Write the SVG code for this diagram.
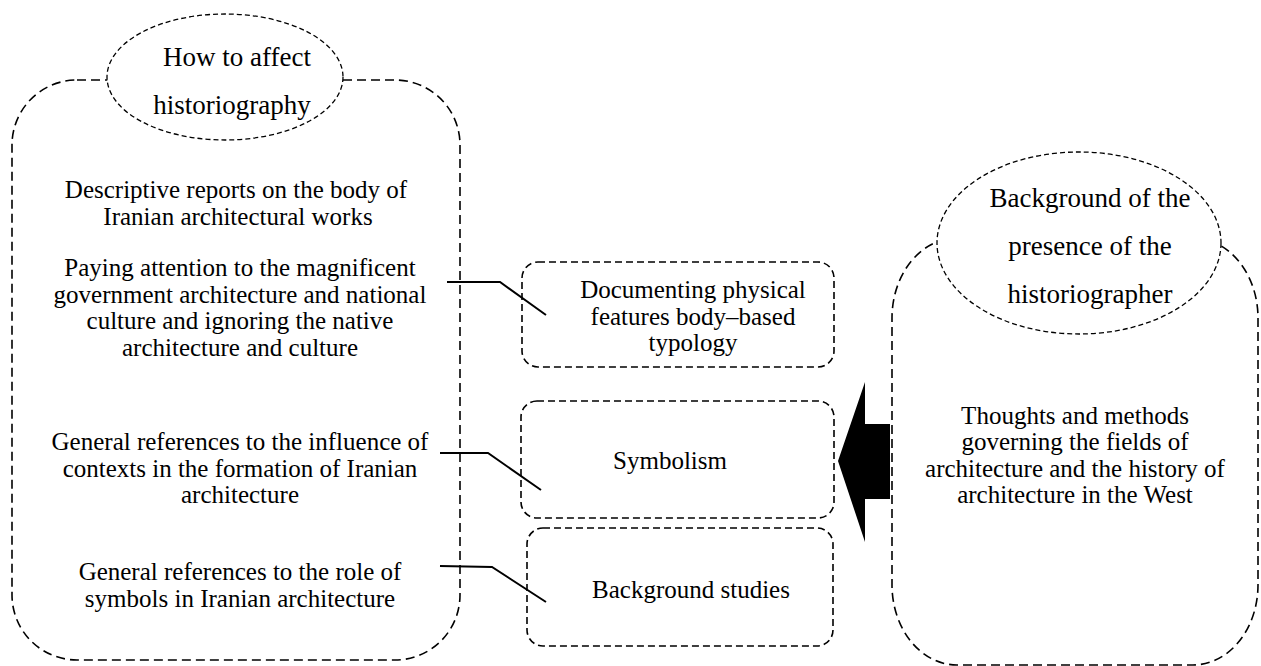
<svg xmlns="http://www.w3.org/2000/svg" width="1261" height="666" viewBox="0 0 1261 666">
<style>
.big{fill:none;stroke:#000;stroke-width:1.6;stroke-dasharray:9 5}
.ell{fill:#fff;stroke:#000;stroke-width:1.3;stroke-dasharray:5 3}
.box{fill:none;stroke:#000;stroke-width:1.6;stroke-dasharray:7 4}
.t{font-family:"Liberation Serif","Times New Roman",serif;font-size:25px;fill:#000;text-anchor:middle}
.h{font-family:"Liberation Serif","Times New Roman",serif;font-size:27px;fill:#000;text-anchor:middle}
.con{fill:none;stroke:#000;stroke-width:2}
</style>
<rect width="1261" height="666" fill="#fff"/>
<g id="left-group">
<rect class="big" x="12" y="80" width="448" height="580" rx="65" ry="65"/>
<ellipse class="ell" cx="225" cy="77" rx="118" ry="63"/>
<text class="h" x="237" y="66">How to affect</text>
<text class="h" x="232" y="114">historiography</text>
<text class="t" x="236" y="198">Descriptive reports on the body of</text>
<text class="t" x="238" y="225">Iranian architectural works</text>
<text class="t" x="240" y="276">Paying attention to the magnificent</text>
<text class="t" x="240" y="303">government architecture and national</text>
<text class="t" x="240" y="329">culture and ignoring the native</text>
<text class="t" x="240" y="356">architecture and culture</text>
<text class="t" x="240" y="450">General references to the influence of</text>
<text class="t" x="240" y="477">contexts in the formation of Iranian</text>
<text class="t" x="240" y="503">architecture</text>
<text class="t" x="240" y="580">General references to the role of</text>
<text class="t" x="240" y="607">symbols in Iranian architecture</text>
</g>
<g id="box-documenting">
<rect class="box" x="522" y="262" width="312" height="105" rx="16" ry="16"/>
<text class="t" x="693" y="298">Documenting physical</text>
<text class="t" x="693" y="325">features body–based</text>
<text class="t" x="693" y="351">typology</text>
</g>
<g id="box-symbolism">
<rect class="box" x="521" y="401" width="313" height="117" rx="16" ry="16"/>
<text class="t" x="670" y="469">Symbolism</text>
</g>
<g id="box-background">
<rect class="box" x="527" y="528" width="306" height="118" rx="16" ry="16"/>
<text class="t" x="691" y="598">Background studies</text>
</g>
<g id="right-group">
<rect class="big" x="892" y="238" width="366" height="427" rx="65" ry="80"/>
<ellipse class="ell" cx="1079" cy="243" rx="142" ry="91"/>
<text class="h" x="1090" y="207">Background of the</text>
<text class="h" x="1090" y="255">presence of the</text>
<text class="h" x="1090" y="303">historiographer</text>
<text class="t" x="1075" y="424">Thoughts and methods</text>
<text class="t" x="1075" y="450">governing the fields of</text>
<text class="t" x="1075" y="477">architecture and the history of</text>
<text class="t" x="1075" y="503">architecture in the West</text>
</g>
<g id="connectors">
<polyline class="con" points="447,282 500,282 546,315"/>
<polyline class="con" points="440,453 488,453 541,490"/>
<polyline class="con" points="440,566 492,567 546,602"/>
<polygon fill="#000" points="838,461 865,382 865,424 890,424 890,499 865,499 865,542"/>
</g>
</svg>
